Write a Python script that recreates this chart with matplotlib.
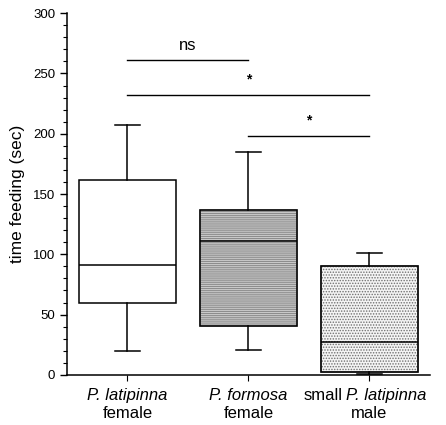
import matplotlib
matplotlib.use("Agg")
import matplotlib.pyplot as plt
from matplotlib.ticker import MultipleLocator
from matplotlib.patches import PathPatch
import matplotlib.transforms as mtransforms

plt.rcParams["font.family"] = ["Liberation Sans", "DejaVu Sans"]
plt.rcParams["hatch.linewidth"] = 0.7

# data (seconds)
groups = ["P. latipinna female", "P. formosa female", "small P. latipinna male"]
label_prefix = ["", "", "small"]
label_italic = ["P. latipinna", "P. formosa", "P. latipinna"]
label_bottom = ["female", "female", "male"]
whisker_low = [20, 20.5, 0.8]
q1 = [60, 40.5, 2.5]
median = [91, 111, 27]
q3 = [162, 137, 90.5]
whisker_high = [207, 185, 101]

# significance bars: (group i, group j, height, text)
sig_bars = [(0, 1, 261, "ns"), (0, 2, 232, "*"), (1, 2, 198, "*")]

stats = []
for i, g in enumerate(groups):
    stats.append({"label": g, "whislo": whisker_low[i], "q1": q1[i], "med": median[i],
                  "q3": q3[i], "whishi": whisker_high[i], "fliers": []})

fig = plt.figure(figsize=(4.46, 4.25), dpi=100)
ax = fig.add_axes([0.150, 0.118, 0.814, 0.851])

pos = [1, 2, 3]
bp = ax.bxp(stats, positions=pos, widths=0.8, patch_artist=True, showfliers=False,
            boxprops=dict(linewidth=1.1, edgecolor="black"),
            medianprops=dict(color="black", linewidth=1.1, zorder=4),
            whiskerprops=dict(color="black", linewidth=1.1),
            capprops=dict(color="black", linewidth=1.1),
            capwidths=0.2)

fills = [("white", None, "black"), ("#c8c8c8", "-" * 8, "#8a8a8a"), ("#f4f4f4", "." * 6, "#707070")]
for patch, (fc, hatch, hc) in zip(bp["boxes"], fills):
    patch.set_facecolor(fc)
    if hatch:
        patch.set_hatch(hatch)
        patch.set_edgecolor(hc)  # hatch takes the edge colour
        ax.add_patch(PathPatch(patch.get_path(), transform=patch.get_transform(),
                               fill=False, edgecolor="black", linewidth=1.1, zorder=3))

for i, j, h, txt in sig_bars:
    ax.plot([pos[i], pos[j]], [h, h], color="black", linewidth=1.0, clip_on=False)
    mid = (pos[i] + pos[j]) / 2
    if txt == "*":
        ax.text(mid, h + 7, txt, ha="center", va="bottom", fontsize=10, fontweight="bold")
    else:
        ax.text(mid, h + 6, txt, ha="center", va="bottom", fontsize=12)

ax.set_xlim(0.5, 3.5)
ax.set_ylim(0, 300)
ax.yaxis.set_major_locator(MultipleLocator(50))
ax.yaxis.set_minor_locator(MultipleLocator(10))
ax.tick_params(axis="y", which="major", length=5, width=1, labelsize=9.5, direction="out")
ax.tick_params(axis="y", which="minor", length=3, width=0.8, direction="out")
ax.tick_params(axis="x", which="major", length=4, width=0.8, labelbottom=False)
ax.set_xticks(pos)
ax.spines["top"].set_visible(False)
ax.spines["right"].set_visible(False)
ax.spines["left"].set_linewidth(1.1)
ax.spines["bottom"].set_linewidth(1.1)
ax.set_ylabel("time feeding (sec)", fontsize=12.5, labelpad=6)

trans = mtransforms.blended_transform_factory(ax.transData, ax.transAxes)
for p, pre, it, b in zip(pos, label_prefix, label_italic, label_bottom):
    if pre:
        ax.text(p - 0.22, -0.035, pre, transform=trans, ha="right", va="top",
                fontsize=12, clip_on=False)
        ax.text(p - 0.19, -0.035, it, transform=trans, ha="left", va="top",
                fontsize=12, style="italic", clip_on=False)
    else:
        ax.text(p, -0.035, it, transform=trans, ha="center", va="top",
                fontsize=12, style="italic", clip_on=False)
    ax.text(p, -0.085, b, transform=trans, ha="center", va="top", fontsize=12, clip_on=False)

fig.savefig("out.png", dpi=100)
